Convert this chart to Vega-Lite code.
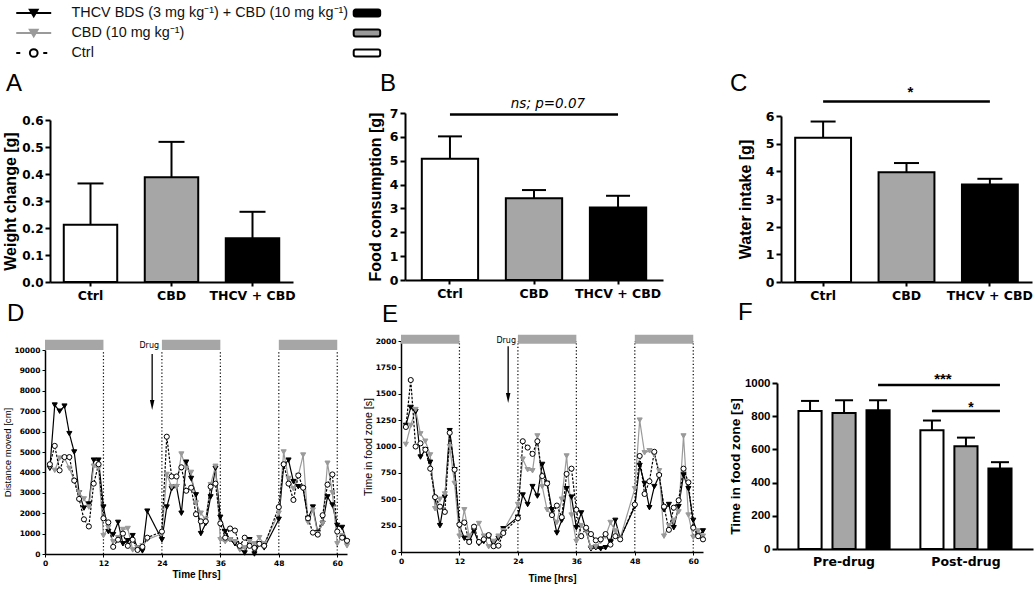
{
  "$schema": "https://vega.github.io/schema/vega-lite/v6.json",
  "padding": {"left": 2, "top": 0, "right": 2, "bottom": 2},
  "background": "white",
  "columns": 6,
  "align": "each",
  "bounds": "flush",
  "spacing": {"row": 50, "column": 0},
  "resolve": {"scale": {"fill": "independent", "stroke": "independent", "shape": "independent", "size": "independent", "strokeDash": "independent", "strokeWidth": "independent", "color": "independent"}},
  "datasets": {
    "one": [{"k": 1}],
    "lights": [{"start": 0, "end": 12}, {"start": 24, "end": 36}, {"start": 48, "end": 60}],
    "dots": [{"t": 12}, {"t": 24}, {"t": 36}, {"t": 48}, {"t": 60}],
    "pairAC": [{"a": "Ctrl", "b": "THCV + CBD"}],
    "mid": [{"a": "CBD"}],
    "Fsig": [
      {"sig": "***", "phase": "Pre-drug", "grp": "THCV + CBD", "lvl": 988},
      {"sig": "***", "phase": "Post-drug", "grp": "THCV + CBD", "lvl": 988},
      {"sig": "*", "phase": "Post-drug", "grp": "Ctrl", "lvl": 831},
      {"sig": "*", "phase": "Post-drug", "grp": "THCV + CBD", "lvl": 831}
    ],
    "Fstar3": [{"phase": "Post-drug", "grp": "Ctrl", "lvl": 988}],
    "Fstar1": [{"phase": "Post-drug", "grp": "CBD", "lvl": 831}],
    "legend": [
      {"series": "thcv", "label": "THCV BDS (3 mg kg⁻¹) + CBD (10 mg kg⁻¹)"},
      {"series": "cbd", "label": "CBD (10 mg kg⁻¹)"},
      {"series": "ctrl", "label": "Ctrl"}
    ],
    "A": [
      {"grp": "Ctrl", "mean": 0.212, "err": 0.365},
      {"grp": "CBD", "mean": 0.388, "err": 0.519},
      {"grp": "THCV + CBD", "mean": 0.162, "err": 0.26}
    ],
    "B": [
      {"grp": "Ctrl", "mean": 5.08, "err": 6.02},
      {"grp": "CBD", "mean": 3.43, "err": 3.77},
      {"grp": "THCV + CBD", "mean": 3.04, "err": 3.53}
    ],
    "C": [
      {"grp": "Ctrl", "mean": 5.21, "err": 5.8},
      {"grp": "CBD", "mean": 3.97, "err": 4.3},
      {"grp": "THCV + CBD", "mean": 3.52, "err": 3.73}
    ],
    "F": [
      {"phase": "Pre-drug", "grp": "Ctrl", "mean": 832, "err": 892},
      {"phase": "Pre-drug", "grp": "CBD", "mean": 820, "err": 896},
      {"phase": "Pre-drug", "grp": "THCV + CBD", "mean": 836, "err": 896},
      {"phase": "Post-drug", "grp": "Ctrl", "mean": 715, "err": 774},
      {"phase": "Post-drug", "grp": "CBD", "mean": 619, "err": 671},
      {"phase": "Post-drug", "grp": "THCV + CBD", "mean": 485, "err": 523}
    ],
    "D": [
      {"h": 1, "thcv": 4200, "cbd": 4300, "ctrl": 4400},
      {"h": 2, "thcv": 7300, "cbd": 4100, "ctrl": 5300},
      {"h": 3, "thcv": 7000, "cbd": 4700, "ctrl": 4100},
      {"h": 4, "thcv": 7250, "cbd": 4700, "ctrl": 4750},
      {"h": 5, "thcv": 5900, "cbd": 4200, "ctrl": 4750},
      {"h": 6, "thcv": 5000, "cbd": 3600, "ctrl": 3600},
      {"h": 7, "thcv": 3000, "cbd": 3000, "ctrl": 2700},
      {"h": 8, "thcv": 2250, "cbd": 2700, "ctrl": 1700},
      {"h": 9, "thcv": 2450, "cbd": 2300, "ctrl": 1350},
      {"h": 10, "thcv": 4600, "cbd": 4300, "ctrl": 3450},
      {"h": 11, "thcv": 4600, "cbd": 4200, "ctrl": 4400},
      {"h": 12, "thcv": 2300, "cbd": 900, "ctrl": 1750},
      {"h": 13, "thcv": 1100, "cbd": 1300, "ctrl": 1550},
      {"h": 14, "thcv": 950, "cbd": 600, "ctrl": 350},
      {"h": 15, "thcv": 1550, "cbd": 800, "ctrl": 700},
      {"h": 16, "thcv": 500, "cbd": 1200, "ctrl": 1000},
      {"h": 17, "thcv": 650, "cbd": 1250, "ctrl": 400},
      {"h": 18, "thcv": 900, "cbd": 200, "ctrl": 700},
      {"h": 19, "thcv": 300, "cbd": 300, "ctrl": 200},
      {"h": 20, "thcv": 150, "cbd": 400, "ctrl": 350},
      {"h": 21, "thcv": 2100, "cbd": 700, "ctrl": 800},
      {"h": 24, "thcv": 700, "cbd": 1000, "ctrl": 1100},
      {"h": 25, "thcv": 2300, "cbd": 3900, "ctrl": 5750},
      {"h": 26, "thcv": 3200, "cbd": 3300, "ctrl": 3800},
      {"h": 27, "thcv": 3300, "cbd": 3300, "ctrl": 3800},
      {"h": 28, "thcv": 2000, "cbd": 4900, "ctrl": 4250},
      {"h": 29, "thcv": 4500, "cbd": 4200, "ctrl": 3100},
      {"h": 30, "thcv": 3700, "cbd": 4000, "ctrl": 3250},
      {"h": 31, "thcv": 2900, "cbd": 2500, "ctrl": 1950},
      {"h": 32, "thcv": 1000, "cbd": 2000, "ctrl": 1600},
      {"h": 33, "thcv": 1500, "cbd": 1700, "ctrl": 1600},
      {"h": 34, "thcv": 2800, "cbd": 3400, "ctrl": 3300},
      {"h": 35, "thcv": 4200, "cbd": 4300, "ctrl": 3450},
      {"h": 36, "thcv": 1800, "cbd": 700, "ctrl": 1500},
      {"h": 37, "thcv": 1100, "cbd": 600, "ctrl": 800},
      {"h": 38, "thcv": 700, "cbd": 700, "ctrl": 1250},
      {"h": 39, "thcv": 500, "cbd": 600, "ctrl": 1150},
      {"h": 40, "thcv": 250, "cbd": 200, "ctrl": 400},
      {"h": 41, "thcv": 50, "cbd": 300, "ctrl": 800},
      {"h": 42, "thcv": 700, "cbd": 600, "ctrl": 400},
      {"h": 43, "thcv": 0, "cbd": 500, "ctrl": 300},
      {"h": 44, "thcv": 500, "cbd": 800, "ctrl": 500},
      {"h": 45, "thcv": 300, "cbd": 500, "ctrl": 400},
      {"h": 48, "thcv": 1700, "cbd": 2000, "ctrl": 2300},
      {"h": 49, "thcv": 4350, "cbd": 5000, "ctrl": 4400},
      {"h": 50, "thcv": 4600, "cbd": 3700, "ctrl": 3450},
      {"h": 51, "thcv": 3550, "cbd": 3200, "ctrl": 2650},
      {"h": 52, "thcv": 3300, "cbd": 3850, "ctrl": 3850},
      {"h": 53, "thcv": 3200, "cbd": 4850, "ctrl": 3250},
      {"h": 54, "thcv": 1750, "cbd": 1550, "ctrl": 1750},
      {"h": 55, "thcv": 2300, "cbd": 2150, "ctrl": 1050},
      {"h": 56, "thcv": 1050, "cbd": 1000, "ctrl": 950},
      {"h": 57, "thcv": 1500, "cbd": 1500, "ctrl": 1900},
      {"h": 58, "thcv": 2800, "cbd": 4450, "ctrl": 3400},
      {"h": 59, "thcv": 2400, "cbd": 3000, "ctrl": 3900},
      {"h": 60, "thcv": 1400, "cbd": 500, "ctrl": 1100},
      {"h": 61, "thcv": 1300, "cbd": 900, "ctrl": 800},
      {"h": 62, "thcv": 600, "cbd": 400, "ctrl": 650}
    ],
    "E": [
      {"h": 1, "thcv": 1200, "cbd": 1020, "ctrl": 1185},
      {"h": 2, "thcv": 1370, "cbd": 1200, "ctrl": 1630},
      {"h": 3, "thcv": 1330, "cbd": 1350, "ctrl": 1000},
      {"h": 4, "thcv": 900, "cbd": 1120, "ctrl": 1030},
      {"h": 5, "thcv": 970, "cbd": 1050, "ctrl": 970},
      {"h": 6, "thcv": 850, "cbd": 920, "ctrl": 790},
      {"h": 7, "thcv": 510, "cbd": 410, "ctrl": 520},
      {"h": 8, "thcv": 250, "cbd": 500, "ctrl": 430},
      {"h": 9, "thcv": 520, "cbd": 550, "ctrl": 380},
      {"h": 10, "thcv": 1150, "cbd": 1000, "ctrl": 1130},
      {"h": 11, "thcv": 780, "cbd": 650, "ctrl": 780},
      {"h": 12, "thcv": 250, "cbd": 150, "ctrl": 260},
      {"h": 13, "thcv": 130, "cbd": 400, "ctrl": 280},
      {"h": 14, "thcv": 100, "cbd": 150, "ctrl": 95},
      {"h": 15, "thcv": 200, "cbd": 230, "ctrl": 240},
      {"h": 16, "thcv": 80, "cbd": 270, "ctrl": 95},
      {"h": 17, "thcv": 100, "cbd": 150, "ctrl": 120},
      {"h": 18, "thcv": 150, "cbd": 50, "ctrl": 160},
      {"h": 19, "thcv": 80, "cbd": 100, "ctrl": 55},
      {"h": 20, "thcv": 130, "cbd": 150, "ctrl": 60},
      {"h": 21, "thcv": 220, "cbd": 200, "ctrl": 180},
      {"h": 24, "thcv": 330, "cbd": 450, "ctrl": 320},
      {"h": 25, "thcv": 540, "cbd": 880, "ctrl": 1050},
      {"h": 26, "thcv": 450, "cbd": 780, "ctrl": 990},
      {"h": 27, "thcv": 620, "cbd": 770, "ctrl": 930},
      {"h": 28, "thcv": 530, "cbd": 1100, "ctrl": 1050},
      {"h": 29, "thcv": 830, "cbd": 620, "ctrl": 720},
      {"h": 30, "thcv": 650, "cbd": 400, "ctrl": 650},
      {"h": 31, "thcv": 400, "cbd": 350, "ctrl": 350},
      {"h": 32, "thcv": 180, "cbd": 280, "ctrl": 440},
      {"h": 33, "thcv": 300, "cbd": 500, "ctrl": 330},
      {"h": 34, "thcv": 600, "cbd": 910, "ctrl": 740},
      {"h": 35, "thcv": 520, "cbd": 350, "ctrl": 790},
      {"h": 36, "thcv": 230, "cbd": 100, "ctrl": 400},
      {"h": 37, "thcv": 370, "cbd": 250, "ctrl": 150},
      {"h": 38, "thcv": 200, "cbd": 200, "ctrl": 230},
      {"h": 39, "thcv": 30, "cbd": 40, "ctrl": 170},
      {"h": 40, "thcv": 40, "cbd": 50, "ctrl": 110},
      {"h": 41, "thcv": 30, "cbd": 100, "ctrl": 120},
      {"h": 42, "thcv": 40, "cbd": 150, "ctrl": 170},
      {"h": 43, "thcv": 100, "cbd": 280, "ctrl": 70},
      {"h": 44, "thcv": 300, "cbd": 200, "ctrl": 150},
      {"h": 45, "thcv": 130, "cbd": 130, "ctrl": 120},
      {"h": 48, "thcv": 430, "cbd": 600, "ctrl": 450},
      {"h": 49, "thcv": 820, "cbd": 1250, "ctrl": 910},
      {"h": 50, "thcv": 650, "cbd": 940, "ctrl": 550},
      {"h": 51, "thcv": 420, "cbd": 960, "ctrl": 670},
      {"h": 52, "thcv": 620, "cbd": 920, "ctrl": 950},
      {"h": 53, "thcv": 720, "cbd": 770, "ctrl": 730},
      {"h": 54, "thcv": 400, "cbd": 150, "ctrl": 430},
      {"h": 55, "thcv": 450, "cbd": 250, "ctrl": 210},
      {"h": 56, "thcv": 230, "cbd": 300, "ctrl": 420},
      {"h": 57, "thcv": 430, "cbd": 380, "ctrl": 490},
      {"h": 58, "thcv": 730, "cbd": 1100, "ctrl": 790},
      {"h": 59, "thcv": 600, "cbd": 350, "ctrl": 660},
      {"h": 60, "thcv": 300, "cbd": 140, "ctrl": 230},
      {"h": 61, "thcv": 150, "cbd": 200, "ctrl": 150},
      {"h": 62, "thcv": 200, "cbd": 150, "ctrl": 120}
    ]
  },
  "concat": [
    {
      "width": 40, "height": 60,
      "data": {"name": "legend"},
      "encoding": {
        "y": {"field": "label", "type": "nominal", "sort": null, "scale": {"type": "band", "paddingInner": 0, "paddingOuter": 0}, "axis": null}
      },
      "layer": [
        {"mark": {"type": "rule", "opacity": 1},
         "encoding": {
           "x": {"datum": 1.7, "type": "quantitative", "scale": {"domain": [0, 10.87], "nice": false, "zero": false}, "axis": null},
           "x2": {"datum": 11.2},
           "stroke": {"field": "series", "type": "nominal", "scale": {"domain": ["thcv", "cbd", "ctrl"], "range": ["#000000", "#9a9a9a", "#000000"]}, "legend": null},
           "strokeDash": {"field": "series", "type": "nominal", "scale": {"domain": ["thcv", "cbd", "ctrl"], "range": [[1, 0], [1, 0], [4, 9.5]]}, "legend": null},
           "strokeWidth": {"field": "series", "type": "ordinal", "scale": {"domain": ["thcv", "cbd", "ctrl"], "range": [2, 2, 4]}, "legend": null}
         }},
        {"mark": {"type": "point", "filled": true, "opacity": 1, "strokeWidth": 2},
         "encoding": {
           "x": {"datum": 6.45, "type": "quantitative"},
           "shape": {"field": "series", "type": "nominal", "scale": {"domain": ["thcv", "cbd", "ctrl"], "range": ["triangle-down", "triangle-down", "circle"]}, "legend": null},
           "fill": {"field": "series", "type": "nominal", "scale": {"domain": ["thcv", "cbd", "ctrl"], "range": ["#000000", "#9a9a9a", "#ffffff"]}, "legend": null},
           "stroke": {"field": "series", "type": "nominal", "scale": {"domain": ["thcv", "cbd", "ctrl"], "range": ["#000000", "#9a9a9a", "#000000"]}, "legend": null},
           "size": {"field": "series", "type": "ordinal", "scale": {"domain": ["thcv", "cbd", "ctrl"], "range": [60, 60, 40]}, "legend": null}
         }},
        {"mark": {"type": "text", "align": "left", "baseline": "middle", "fontSize": 14.4, "font": "Liberation Sans", "color": "#111111"},
         "encoding": {
           "x": {"datum": 16.7, "type": "quantitative"},
           "text": {"field": "label"}
         }},
        {"mark": {"type": "bar", "stroke": "black", "strokeWidth": 2, "cornerRadius": 2, "height": {"band": 0.35}, "opacity": 1},
         "encoding": {
           "x": {"datum": 93.4, "type": "quantitative"},
           "x2": {"datum": 100.6},
           "fill": {"field": "series", "type": "nominal", "scale": {"domain": ["thcv", "cbd", "ctrl"], "range": ["#000000", "#9a9a9a", "#ffffff"]}, "legend": null}
         }}
      ]
    },
    {"width": 1, "height": 1, "data": {"name": "one"}, "mark": {"type": "point", "opacity": 0}, "encoding": {}},
    {"width": 1, "height": 1, "data": {"name": "one"}, "mark": {"type": "point", "opacity": 0}, "encoding": {}},
    {"width": 1, "height": 1, "data": {"name": "one"}, "mark": {"type": "point", "opacity": 0}, "encoding": {}},
    {"width": 1, "height": 1, "data": {"name": "one"}, "mark": {"type": "point", "opacity": 0}, "encoding": {}},
    {"width": 1, "height": 1, "data": {"name": "one"}, "mark": {"type": "point", "opacity": 0}, "encoding": {}},

    {"width": 40, "height": 178, "data": {"name": "one"}, "mark": {"type": "point", "opacity": 0}, "encoding": {}},
    {
      "width": 243, "height": 169,
      "title": {"text": "A", "dx": -44, "offset": 17},
      "data": {"name": "A"},
      "encoding": {
        "x": {"field": "grp", "type": "nominal", "scale": {"type": "band", "domain": ["Ctrl", "CBD", "THCV + CBD"], "paddingInner": 0.34, "paddingOuter": 0.17},
              "axis": {"title": null, "labelAngle": 0, "labelFont": "DejaVu Sans", "labelFontWeight": "bold", "labelFontSize": 12.5, "labelPadding": 3, "tickSize": 4, "tickWidth": 2, "domainWidth": 2}}
      },
      "layer": [
        {"mark": {"type": "rule", "color": "black", "strokeWidth": 2, "opacity": 1},
         "encoding": {
           "y": {"field": "mean", "type": "quantitative", "scale": {"domain": [0, 0.6], "range": [169, 7], "nice": false},
                 "axis": {"title": "Weight change [g]", "values": [0, 0.1, 0.2, 0.3, 0.4, 0.5, 0.6], "tickCount": 30, "format": ".1f", "labelOverlap": false, "labelFont": "DejaVu Sans", "labelFontWeight": "bold", "labelFontSize": 12, "labelPadding": 2, "tickSize": 5, "tickWidth": 2, "domainWidth": 2, "titleFont": "Liberation Sans", "titleFontSize": 16, "titleFontWeight": "bold", "titlePadding": 3}},
           "y2": {"field": "err"}}},
        {"mark": {"type": "tick", "color": "black", "thickness": 2, "size": 26, "opacity": 1}, "encoding": {"y": {"field": "err", "type": "quantitative"}}},
        {"mark": {"type": "bar", "stroke": "black", "strokeWidth": 2, "opacity": 1},
         "encoding": {
           "y": {"field": "mean", "type": "quantitative"},
           "fill": {"field": "grp", "type": "nominal", "scale": {"domain": ["Ctrl", "CBD", "THCV + CBD"], "range": ["#ffffff", "#a6a6a6", "#000000"]}, "legend": null}}}
      ]
    },
    {"width": 58, "height": 1, "data": {"name": "one"}, "mark": {"type": "point", "opacity": 0}, "encoding": {}},
    {
      "width": 258, "height": 167,
      "title": {"text": "B", "dx": -25, "offset": 1.5},
      "data": {"name": "B"},
      "encoding": {
        "x": {"field": "grp", "type": "nominal", "scale": {"type": "band", "domain": ["Ctrl", "CBD", "THCV + CBD"], "paddingInner": 0.33, "paddingOuter": 0.2},
              "axis": {"title": null, "labelAngle": 0, "labelFont": "DejaVu Sans", "labelFontWeight": "bold", "labelFontSize": 12.5, "labelPadding": 3, "tickSize": 4, "tickWidth": 2, "domainWidth": 2}}
      },
      "layer": [
        {"mark": {"type": "rule", "color": "black", "strokeWidth": 2, "opacity": 1},
         "encoding": {
           "y": {"field": "mean", "type": "quantitative", "scale": {"domain": [0, 7], "nice": false},
                 "axis": {"title": "Food consumption [g]", "values": [0, 1, 2, 3, 4, 5, 6, 7], "tickCount": 30, "format": "d", "labelOverlap": false, "labelFont": "DejaVu Sans", "labelFontWeight": "bold", "labelFontSize": 12.5, "labelPadding": 2, "tickSize": 5, "tickWidth": 2, "domainWidth": 2, "titleFont": "Liberation Sans", "titleFontSize": 16, "titleFontWeight": "bold", "titlePadding": 6}},
           "y2": {"field": "err"}}},
        {"mark": {"type": "tick", "color": "black", "thickness": 2, "size": 24, "opacity": 1}, "encoding": {"y": {"field": "err", "type": "quantitative"}}},
        {"mark": {"type": "bar", "stroke": "black", "strokeWidth": 2, "opacity": 1},
         "encoding": {
           "y": {"field": "mean", "type": "quantitative"},
           "fill": {"field": "grp", "type": "nominal", "scale": {"domain": ["Ctrl", "CBD", "THCV + CBD"], "range": ["#ffffff", "#a6a6a6", "#000000"]}, "legend": null}}},
        {"data": {"name": "pairAC"},
         "mark": {"type": "rule", "color": "black", "strokeWidth": 2.5, "opacity": 1},
         "encoding": {"x": {"field": "a", "type": "nominal"}, "x2": {"field": "b"}, "y": {"datum": 6.94, "type": "quantitative"}}},
        {"data": {"name": "mid"},
         "mark": {"type": "text", "text": "ns; p=0.07", "font": "DejaVu Sans", "fontStyle": "italic", "fontSize": 13.5, "align": "center", "baseline": "alphabetic", "dx": 14, "color": "black"},
         "encoding": {"x": {"field": "a", "type": "nominal"}, "y": {"datum": 7.19, "type": "quantitative"}}}
      ]
    },
    {"width": 78, "height": 1, "data": {"name": "one"}, "mark": {"type": "point", "opacity": 0}, "encoding": {}},
    {
      "width": 251, "height": 169,
      "title": {"text": "C", "dx": -51, "offset": -10.5},
      "data": {"name": "C"},
      "encoding": {
        "x": {"field": "grp", "type": "nominal", "scale": {"type": "band", "domain": ["Ctrl", "CBD", "THCV + CBD"], "paddingInner": 0.33, "paddingOuter": 0.17},
              "axis": {"title": null, "labelAngle": 0, "labelFont": "DejaVu Sans", "labelFontWeight": "bold", "labelFontSize": 12.5, "labelPadding": 3, "tickSize": 4, "tickWidth": 2, "domainWidth": 2}}
      },
      "layer": [
        {"mark": {"type": "rule", "color": "black", "strokeWidth": 2, "opacity": 1},
         "encoding": {
           "y": {"field": "mean", "type": "quantitative", "scale": {"domain": [0, 6], "range": [169, 3], "nice": false},
                 "axis": {"title": "Water intake [g]", "values": [0, 1, 2, 3, 4, 5, 6], "tickCount": 30, "format": "d", "labelOverlap": false, "labelFont": "DejaVu Sans", "labelFontWeight": "bold", "labelFontSize": 12.5, "labelPadding": 2, "tickSize": 5, "tickWidth": 2, "domainWidth": 2, "titleFont": "Liberation Sans", "titleFontSize": 16, "titleFontWeight": "bold", "titlePadding": 12}},
           "y2": {"field": "err"}}},
        {"mark": {"type": "tick", "color": "black", "thickness": 2, "size": 25, "opacity": 1}, "encoding": {"y": {"field": "err", "type": "quantitative"}}},
        {"mark": {"type": "bar", "stroke": "black", "strokeWidth": 2, "opacity": 1},
         "encoding": {
           "y": {"field": "mean", "type": "quantitative"},
           "fill": {"field": "grp", "type": "nominal", "scale": {"domain": ["Ctrl", "CBD", "THCV + CBD"], "range": ["#ffffff", "#a6a6a6", "#000000"]}, "legend": null}}},
        {"data": {"name": "pairAC"},
         "mark": {"type": "rule", "color": "black", "strokeWidth": 2.5, "opacity": 1},
         "encoding": {"x": {"field": "a", "type": "nominal"}, "x2": {"field": "b"}, "y": {"datum": 6.52, "type": "quantitative"}}},
        {"data": {"name": "mid"},
         "mark": {"type": "text", "text": "*", "font": "Liberation Sans", "fontWeight": "bold", "fontSize": 15, "align": "center", "baseline": "alphabetic", "dx": 4, "color": "black"},
         "encoding": {"x": {"field": "a", "type": "nominal"}, "y": {"datum": 6.67, "type": "quantitative"}}}
      ]
    },

    {"width": 40, "height": 1, "data": {"name": "one"}, "mark": {"type": "point", "opacity": 0}, "encoding": {}},
    {
      "width": 297, "height": 213,
      "title": {"text": "D", "dx": -43, "offset": 14},
      "layer": [
        {"data": {"name": "lights"},
         "mark": {"type": "rect", "color": "#a6a6a6", "opacity": 1},
         "encoding": {"x": {"field": "start", "type": "quantitative"}, "x2": {"field": "end"}, "y": {"datum": 10000, "type": "quantitative"}, "y2": {"datum": 10500}}},
        {"data": {"name": "dots"},
         "mark": {"type": "rule", "color": "black", "strokeWidth": 1.2, "strokeDash": [1.2, 2.2], "opacity": 1},
         "encoding": {"x": {"field": "t", "type": "quantitative"}, "y": {"datum": 0, "type": "quantitative"}, "y2": {"datum": 10000}}},
        {"data": {"name": "D"},
         "transform": [{"fold": ["thcv", "cbd", "ctrl"], "as": ["series", "v"]}],
         "mark": {"type": "line", "strokeWidth": 1.2, "opacity": 1},
         "encoding": {
           "x": {"field": "h", "type": "quantitative", "scale": {"domain": [0, 62], "range": [-5, 297], "nice": false, "zero": false},
                 "axis": {"values": [0, 12, 24, 36, 48, 60], "tickCount": 30, "title": "Time [hrs]", "labelOverlap": false, "labelFont": "DejaVu Sans", "labelFontWeight": "bold", "labelFontSize": 7.5, "labelPadding": 2, "tickSize": 3, "tickWidth": 1, "domainWidth": 1.5, "titleFont": "Liberation Sans", "titleFontWeight": "bold", "titleFontSize": 10, "titlePadding": 3}},
           "y": {"field": "v", "type": "quantitative", "scale": {"domain": [0, 10000], "range": [213, 9], "nice": false},
                 "axis": {"values": [0, 1000, 2000, 3000, 4000, 5000, 6000, 7000, 8000, 9000, 10000], "tickCount": 30, "format": "d", "labelOverlap": false, "offset": 5, "title": "Distance moved [cm]", "labelFont": "DejaVu Sans", "labelFontWeight": "bold", "labelFontSize": 7.5, "labelPadding": 2, "tickSize": 3, "tickWidth": 1, "domainWidth": 1.5, "titleFont": "Liberation Sans", "titleFontWeight": "normal", "titleFontSize": 9.6, "titlePadding": 1}},
           "stroke": {"field": "series", "type": "nominal", "scale": {"domain": ["thcv", "cbd", "ctrl"], "range": ["#000000", "#9a9a9a", "#000000"]}, "legend": null},
           "strokeDash": {"field": "series", "type": "nominal", "scale": {"domain": ["thcv", "cbd", "ctrl"], "range": [[1, 0], [1, 0], [2.5, 1.5]]}, "legend": null}
         }},
        {"data": {"name": "D"},
         "transform": [{"fold": ["thcv", "cbd", "ctrl"], "as": ["series", "v"]}],
         "mark": {"type": "point", "filled": true, "opacity": 1, "strokeWidth": 1},
         "encoding": {
           "x": {"field": "h", "type": "quantitative"},
           "y": {"field": "v", "type": "quantitative"},
           "shape": {"field": "series", "type": "nominal", "scale": {"domain": ["thcv", "cbd", "ctrl"], "range": ["triangle-down", "triangle-down", "circle"]}, "legend": null},
           "fill": {"field": "series", "type": "nominal", "scale": {"domain": ["thcv", "cbd", "ctrl"], "range": ["#000000", "#9a9a9a", "#ffffff"]}, "legend": null},
           "stroke": {"field": "series", "type": "nominal", "scale": {"domain": ["thcv", "cbd", "ctrl"], "range": ["#000000", "#9a9a9a", "#000000"]}, "legend": null},
           "size": {"field": "series", "type": "ordinal", "scale": {"domain": ["thcv", "cbd", "ctrl"], "range": [26, 26, 22]}, "legend": null}
         }},
        {"data": {"name": "one"},
         "mark": {"type": "text", "text": "Drug", "font": "DejaVu Sans", "fontSize": 8, "align": "center", "baseline": "middle", "color": "black"},
         "encoding": {"x": {"datum": 21.4, "type": "quantitative"}, "y": {"datum": 10200, "type": "quantitative"}}},
        {"data": {"name": "one"},
         "mark": {"type": "rule", "color": "black", "strokeWidth": 1.3, "opacity": 1},
         "encoding": {"x": {"datum": 22, "type": "quantitative"}, "y": {"datum": 9800, "type": "quantitative"}, "y2": {"datum": 7400}}},
        {"data": {"name": "one"},
         "mark": {"type": "point", "shape": "M-0.45,-1L0.45,-1L0,1Z", "size": 100, "filled": true, "color": "black", "opacity": 1},
         "encoding": {"x": {"datum": 22, "type": "quantitative"}, "y": {"datum": 7300, "type": "quantitative"}}}
      ]
    },
    {"width": 1, "height": 1, "data": {"name": "one"}, "mark": {"type": "point", "opacity": 0}, "encoding": {}},
    {
      "width": 298, "height": 211,
      "title": {"text": "E", "dx": -23, "offset": 7.7},
      "layer": [
        {"data": {"name": "lights"},
         "mark": {"type": "rect", "color": "#a6a6a6", "opacity": 1},
         "encoding": {"x": {"field": "start", "type": "quantitative"}, "x2": {"field": "end"}, "y": {"datum": 1975, "type": "quantitative"}, "y2": {"datum": 2060}}},
        {"data": {"name": "dots"},
         "mark": {"type": "rule", "color": "black", "strokeWidth": 1.2, "strokeDash": [1.2, 2.2], "opacity": 1},
         "encoding": {"x": {"field": "t", "type": "quantitative"}, "y": {"datum": 0, "type": "quantitative"}, "y2": {"datum": 2000}}},
        {"data": {"name": "E"},
         "transform": [{"fold": ["thcv", "cbd", "ctrl"], "as": ["series", "v"]}],
         "mark": {"type": "line", "strokeWidth": 1.2, "opacity": 1},
         "encoding": {
           "x": {"field": "h", "type": "quantitative", "scale": {"domain": [0, 62], "range": [-4, 298], "nice": false, "zero": false},
                 "axis": {"values": [0, 12, 24, 36, 48, 60], "tickCount": 30, "title": "Time [hrs]", "labelOverlap": false, "labelFont": "DejaVu Sans", "labelFontWeight": "bold", "labelFontSize": 7.5, "labelPadding": 2, "tickSize": 3, "tickWidth": 1, "domainWidth": 1.5, "titleFont": "Liberation Sans", "titleFontWeight": "bold", "titleFontSize": 10, "titlePadding": 9}},
           "y": {"field": "v", "type": "quantitative", "scale": {"domain": [0, 2000], "nice": false},
                 "axis": {"values": [0, 250, 500, 750, 1000, 1250, 1500, 1750, 2000], "tickCount": 30, "format": "d", "labelOverlap": false, "offset": 4, "title": "Time in food zone [s]", "labelFont": "DejaVu Sans", "labelFontWeight": "bold", "labelFontSize": 7.5, "labelPadding": 2, "tickSize": 3, "tickWidth": 1, "domainWidth": 1.5, "titleFont": "Liberation Sans", "titleFontWeight": "normal", "titleFontSize": 10.6, "titlePadding": 2}},
           "stroke": {"field": "series", "type": "nominal", "scale": {"domain": ["thcv", "cbd", "ctrl"], "range": ["#000000", "#9a9a9a", "#000000"]}, "legend": null},
           "strokeDash": {"field": "series", "type": "nominal", "scale": {"domain": ["thcv", "cbd", "ctrl"], "range": [[1, 0], [1, 0], [2.5, 1.5]]}, "legend": null}
         }},
        {"data": {"name": "E"},
         "transform": [{"fold": ["thcv", "cbd", "ctrl"], "as": ["series", "v"]}],
         "mark": {"type": "point", "filled": true, "opacity": 1, "strokeWidth": 1},
         "encoding": {
           "x": {"field": "h", "type": "quantitative"},
           "y": {"field": "v", "type": "quantitative"},
           "shape": {"field": "series", "type": "nominal", "scale": {"domain": ["thcv", "cbd", "ctrl"], "range": ["triangle-down", "triangle-down", "circle"]}, "legend": null},
           "fill": {"field": "series", "type": "nominal", "scale": {"domain": ["thcv", "cbd", "ctrl"], "range": ["#000000", "#9a9a9a", "#ffffff"]}, "legend": null},
           "stroke": {"field": "series", "type": "nominal", "scale": {"domain": ["thcv", "cbd", "ctrl"], "range": ["#000000", "#9a9a9a", "#000000"]}, "legend": null},
           "size": {"field": "series", "type": "ordinal", "scale": {"domain": ["thcv", "cbd", "ctrl"], "range": [26, 26, 22]}, "legend": null}
         }},
        {"data": {"name": "one"},
         "mark": {"type": "text", "text": "Drug", "font": "DejaVu Sans", "fontSize": 8, "align": "center", "baseline": "middle", "color": "black"},
         "encoding": {"x": {"datum": 21.6, "type": "quantitative"}, "y": {"datum": 2000, "type": "quantitative"}}},
        {"data": {"name": "one"},
         "mark": {"type": "rule", "color": "black", "strokeWidth": 1.3, "opacity": 1},
         "encoding": {"x": {"datum": 22, "type": "quantitative"}, "y": {"datum": 1950, "type": "quantitative"}, "y2": {"datum": 1500}}},
        {"data": {"name": "one"},
         "mark": {"type": "point", "shape": "M-0.45,-1L0.45,-1L0,1Z", "size": 100, "filled": true, "color": "black", "opacity": 1},
         "encoding": {"x": {"datum": 22, "type": "quantitative"}, "y": {"datum": 1460, "type": "quantitative"}}}
      ]
    },
    {"width": 1, "height": 1, "data": {"name": "one"}, "mark": {"type": "point", "opacity": 0}, "encoding": {}},
    {
      "width": 252, "height": 208,
      "title": {"text": "F", "dx": -43, "offset": 16},
      "data": {"name": "F"},
      "encoding": {
        "x": {"field": "phase", "type": "nominal", "scale": {"type": "band", "domain": ["Pre-drug", "Post-drug"], "range": [-4, 252], "paddingInner": 0.1, "paddingOuter": 0.1},
              "axis": {"title": null, "labelAngle": 0, "ticks": false, "labelFont": "DejaVu Sans", "labelFontWeight": "bold", "labelFontSize": 12.5, "labelPadding": 6, "domainWidth": 2}},
        "xOffset": {"field": "grp", "type": "nominal", "scale": {"domain": ["Ctrl", "CBD", "THCV + CBD"], "paddingInner": 0.32, "paddingOuter": 0.273}}
      },
      "layer": [
        {"mark": {"type": "rule", "color": "black", "strokeWidth": 2, "opacity": 1},
         "encoding": {
           "y": {"field": "mean", "type": "quantitative", "scale": {"domain": [0, 1000], "range": [208, 42], "nice": false},
                 "axis": {"title": "Time in food zone [s]", "values": [0, 200, 400, 600, 800, 1000], "tickCount": 30, "format": "d", "labelOverlap": false, "offset": 4, "labelFont": "Liberation Sans", "labelFontWeight": "bold", "labelFontSize": 11.5, "labelPadding": 2, "tickSize": 5, "tickWidth": 2, "domainWidth": 2, "titleFont": "Liberation Sans", "titleFontSize": 13.7, "titleFontWeight": "bold", "titlePadding": 1.5}},
           "y2": {"field": "err"}}},
        {"mark": {"type": "tick", "color": "black", "thickness": 2, "size": 18, "opacity": 1}, "encoding": {"y": {"field": "err", "type": "quantitative"}}},
        {"mark": {"type": "bar", "stroke": "black", "strokeWidth": 2, "opacity": 1},
         "encoding": {
           "y": {"field": "mean", "type": "quantitative"},
           "fill": {"field": "grp", "type": "nominal", "scale": {"domain": ["Ctrl", "CBD", "THCV + CBD"], "range": ["#ffffff", "#a6a6a6", "#000000"]}, "legend": null}}},
        {"data": {"name": "Fsig"},
         "mark": {"type": "line", "color": "black", "strokeWidth": 2.5, "opacity": 1},
         "encoding": {"y": {"field": "lvl", "type": "quantitative"}, "detail": {"field": "sig"}}},
        {"data": {"name": "Fstar3"},
         "mark": {"type": "text", "text": "***", "font": "Liberation Sans", "fontWeight": "bold", "fontSize": 15, "align": "center", "baseline": "alphabetic", "dx": 11, "dy": -1, "color": "black"},
         "encoding": {"y": {"field": "lvl", "type": "quantitative"}}},
        {"data": {"name": "Fstar1"},
         "mark": {"type": "text", "text": "*", "font": "Liberation Sans", "fontWeight": "bold", "fontSize": 14, "align": "center", "baseline": "alphabetic", "dx": 5, "dy": 1, "color": "black"},
         "encoding": {"y": {"field": "lvl", "type": "quantitative"}}}
      ]
    }
  ],
  "config": {
    "view": {"stroke": null},
    "font": "Liberation Sans",
    "legend": {"disable": true},
    "axis": {"grid": false, "domainColor": "black", "tickColor": "black", "labelColor": "black", "titleColor": "black", "labelFlush": false, "labelOverlap": false},
    "title": {"anchor": "start", "frame": "group", "fontSize": 24, "fontWeight": "normal", "font": "Liberation Sans", "color": "black", "baseline": "alphabetic"}
  }
}
